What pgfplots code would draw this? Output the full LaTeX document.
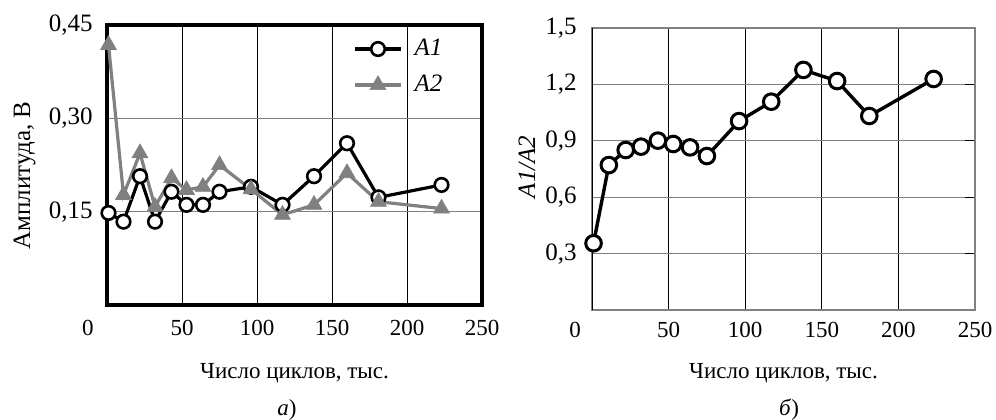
\documentclass[border=0pt]{standalone}
\usepackage{fontspec}
\setmainfont{Liberation Serif}
\usepackage{pgfplots}
\pgfplotsset{compat=1.18}
\definecolor{seriesgray}{RGB}{128,128,128}

\pgfplotstableread{
x    a1     a2
1    0.148  0.418
11   0.134  0.177
22   0.207  0.244
32   0.134  0.158
43   0.182  0.204
53   0.161  0.185
64   0.161  0.190
75   0.182  0.225
96   0.190  0.186
117  0.161  0.145
138  0.207  0.161
160  0.260  0.212
181  0.173  0.166
223  0.193  0.155
}\amptable

\pgfplotstableread{
x    r
1    0.355
11   0.771
22   0.851
32   0.869
43   0.901
53   0.883
64   0.865
75   0.819
96   1.005
117  1.108
138  1.277
160  1.218
181  1.032
223  1.229
}\ratiotable

\pgfplotsset{
  panel/.style={
    scale only axis, anchor=south west, clip=false,
    xmin=0, xmax=250, ymin=0,
    xtick={50,100,150,200,250},
    extra x ticks={0},
    xmajorgrids, ymajorgrids,
    major x grid style={black, line width=0.5pt},
    major y grid style={seriesgray, line width=0.5pt},
    x tick style={draw=none},
    /pgf/number format/assume math mode=true,
    xticklabel style={anchor=base, font=\fontsize{11.5pt}{13pt}\selectfont},
    yticklabel style={anchor=east, inner sep=0pt, font=\fontsize{12.5pt}{14pt}\selectfont},
  }
}

\begin{document}
\fontsize{11.5pt}{13.8pt}\selectfont
\begin{tikzpicture}
\useasboundingbox (0pt,0pt) rectangle (498pt,-209.5pt);

% left panel: amplitudes
\begin{axis}[panel,
  at={(53.5pt,-152.5pt)}, width=187.5pt, height=140pt,
  ymax=0.45, ytick={0.15,0.30,0.45},
  y tick style={draw=none},
  yticklabel style={xshift=-7pt, /pgf/number format/.cd, fixed, fixed zerofill, precision=2, use comma},
  xticklabel style={yshift=-15pt},
  extra x tick style={xticklabel style={xshift=-9.5pt}},
  axis line style={draw=none},
  legend style={draw=none, fill=none, at={(0.64,0.85)}, anchor=west,
    row sep=4pt, font=\fontsize{12.5pt}{14pt}\selectfont},
  legend cell align=left,
  legend image code/.code={\draw[mark repeat=2,mark phase=2] plot coordinates {(0pt,0pt) (11.5pt,0pt) (23pt,0pt)};},
]
\draw[line width=1.8pt] (rel axis cs:0,0) rectangle (rel axis cs:1,1);
\addplot[black, line width=1.6pt, mark=*, mark size=3.4pt,
  mark options={fill=white, line width=1.3pt}] table[x=x, y=a1] {\amptable};
\addlegendentry{\hspace{4pt}\textit{A1}}
\addplot[seriesgray, line width=1.6pt, mark=triangle*, mark size=4.6pt,
  mark options={fill=seriesgray, line width=0.3pt}] table[x=x, y=a2] {\amptable};
\addlegendentry{\hspace{4pt}\textit{A2}}
\end{axis}

% right panel: ratio
\begin{axis}[panel,
  at={(296pt,-155pt)}, width=191.5pt, height=141pt,
  ymax=1.5, ytick={0.3,0.6,0.9,1.2,1.5},
  ytick pos=right, yticklabel pos=left, ytick align=inside,
  major tick length=5pt, y tick style={black, line width=0.5pt},
  yticklabel style={xshift=-7.5pt, /pgf/number format/.cd, fixed, fixed zerofill, precision=1, use comma},
  xticklabel style={yshift=-13.5pt},
  extra x tick style={xticklabel style={xshift=-8.5pt}},
  axis line style={seriesgray, line width=0.6pt},
]
\addplot[black, line width=1.7pt, mark=*, mark size=3.9pt,
  mark options={fill=white, line width=1.5pt}] table[x=x, y=r] {\ratiotable};
\end{axis}

\begin{scope}[font=\fontsize{12.5pt}{14pt}\selectfont]
\node[rotate=90, anchor=base] at (15pt,-87.75pt) {Амплитуда, В};
\node[rotate=90, anchor=base] at (267.5pt,-83.5pt) {\textit{A1/A2}};
\end{scope}
\node[anchor=base] at (147.25pt,-189pt) {Число циклов, тыс.};
\node[anchor=base] at (391.75pt,-189pt) {Число циклов, тыс.};
\node[anchor=base] at (143.5pt,-207.5pt) {\textit{а})};
\node[anchor=base] at (394.5pt,-207.5pt) {\textit{б})};
\end{tikzpicture}
\end{document}
